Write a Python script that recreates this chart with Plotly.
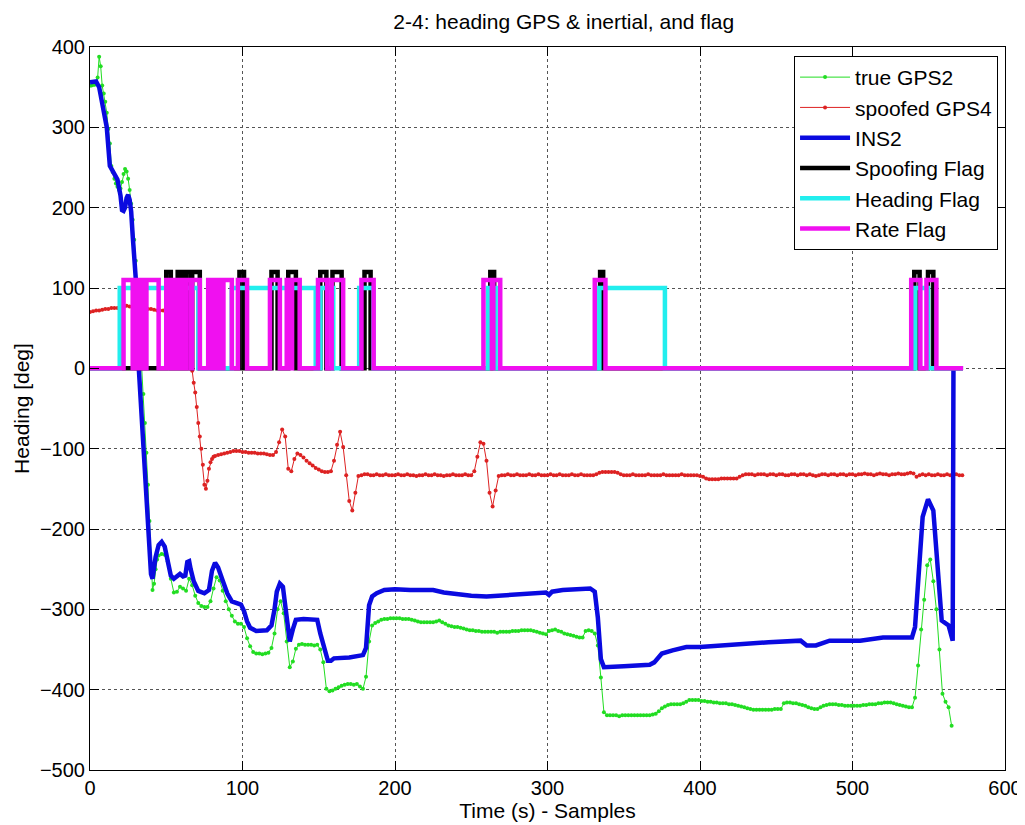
import plotly.graph_objects as go

# ---------------- data ----------------
# true GPS2 heading: segments of (first sample, sample step, values)
GPS2_SEGMENTS = [
    (0, 1, [352, 352, 353, 353, 355, 362, 388, 376, 352, 342,
            332, 318, 298, 280, 252, 244, 236, 230, 226, 222,
            224, 232, 242, 248, 245, 236, 222, 205, 185, 160,
            134, 100, 68, 35, 2, -32, -68, -105, -145, -190,
            -245, -276, -268, -250, -238]),
    (45, 2, [-233, -231, -232, -240, -262, -279, -278, -272, -274, -277,
             -262, -270, -283, -292, -296, -297, -297, -290, -274, -260,
             -264, -277, -290, -300, -308, -315, -318, -318, -322, -336,
             -346, -353, -355, -355, -356, -355, -354, -348, -330, -300,
             -290, -305, -340, -372, -365, -349, -344, -343, -344, -344,
             -344, -345, -344, -350, -366, -399, -402, -401, -399, -397,
             -395, -394, -393, -393, -394, -393, -396, -399, -384, -340,
             -320, -317, -315, -313, -312, -312, -311, -311, -311, -311,
             -312, -312, -312, -313, -314, -315, -316, -316, -316, -316,
             -316, -315, -314, -316, -318, -320, -321, -322, -322, -323,
             -324, -325, -326, -326, -327, -327, -328, -328, -328, -328,
             -328, -329, -328, -328, -328, -328, -327, -327, -327, -326,
             -326, -326, -326, -327, -328, -329, -330, -331, -327, -326,
             -325, -327, -328, -330, -331, -332, -333, -334, -335, -335,
             -327, -326, -327, -330, -345, -385, -428, -432, -432, -432,
             -432, -433, -432, -432, -432, -432, -432, -432, -432, -432,
             -432, -432, -431, -430, -427, -423, -421, -419, -418, -418,
             -418, -418, -417, -415, -413, -413, -413, -413, -414, -414,
             -415, -415, -416, -416, -417, -417, -417, -418, -418, -419,
             -420, -421, -422, -423, -424, -425, -425, -425, -425, -425,
             -425, -425, -424, -424, -424, -417, -416, -416, -417, -417,
             -418, -419, -420, -422, -423, -424, -424, -422, -420, -419,
             -418, -418, -418, -419, -419, -420, -420, -420, -420, -420,
             -420, -419, -419, -418, -418, -418, -417, -417, -416, -416,
             -416, -417, -418, -419, -420, -421, -422, -422, -410, -370,
             -325, -288, -245, -238, -265, -300, -350, -405, -415, -422,
             -445]),
]

# spoofed GPS4 heading
GPS4_SEGMENTS = [
    (0, 2, [70, 71, 72, 72, 73, 74, 74, 75, 75, 75,
            75, 76, 78, 77, 75, 74, 74, 74, 74, 74,
            74, 73, 72, 72, 72, 72, 71, 70, 68, 66]),
    (60, 1, [64, 63, 62, 60, 42, 25, 10, -3, -18, -30,
             -48, -68, -85, -100, -120, -145, -150, -140, -125, -117,
             -113, -110]),
    (82, 2, [-109, -108, -107, -106, -105, -104, -103, -103, -103, -104,
             -104, -105, -105, -105, -106, -106, -106, -107, -108, -108,
             -104, -92, -76, -85, -125, -128, -113, -106, -108, -111,
             -115, -118, -121, -124, -126, -128, -129, -129, -128, -115,
             -95, -79, -98, -133, -165, -177, -155, -134, -133, -132,
             -132, -133, -133, -132, -133, -133, -132, -133, -133, -133,
             -132, -133, -133, -132, -133, -133, -134, -133, -133, -132,
             -133, -133, -132, -133, -133, -134, -133, -133, -132, -133,
             -133, -133, -132, -133, -133, -128, -110, -92, -94, -115,
             -155, -172, -152, -134, -133, -133, -132, -133, -133, -132,
             -133, -133, -133, -132, -133, -133, -132, -133, -133, -133,
             -132, -133, -133, -132, -133, -133, -133, -132, -133, -133,
             -132, -133, -133, -133, -133, -132, -130, -129, -129, -129,
             -129, -129, -130, -132, -133, -133, -133, -132, -133, -133,
             -133, -133, -132, -133, -133, -133, -133, -132, -133, -133,
             -133, -133, -133, -132, -133, -133, -133, -133, -133, -134,
             -135, -137, -138, -138, -138, -138, -137, -137, -137, -137,
             -137, -137, -135, -133, -132, -132, -132, -133, -132, -132,
             -132, -133, -132, -132, -133, -132, -132, -133, -133, -132,
             -132, -133, -132, -132, -133, -132, -133, -134, -133, -132,
             -132, -133, -132, -132, -133, -132, -132, -133, -132, -132,
             -133, -132, -132, -131, -132, -132, -133, -132, -131, -132,
             -132, -133, -132, -132, -131, -132, -132, -131, -130, -131,
             -135, -133, -132, -133, -132, -133, -133, -132, -133, -133,
             -132, -133, -133, -132, -133, -133]),
]

# INS2 heading (breakpoints)
INS2_X = [0, 4, 6, 9, 11, 13, 15, 18, 20, 21, 22, 23, 24, 25, 26, 27, 28, 30, 32, 35,
          38, 40, 41, 43, 45, 47, 49, 51, 53, 55, 57, 59, 61, 62.5, 63.8, 65, 66, 68, 71, 75,
          78, 80, 82, 84, 87, 90, 93, 97, 99, 101, 103, 105, 109, 116, 119, 121, 122.5, 124.5, 126.5, 128,
          130, 131, 133, 135, 140, 146, 149, 151, 153, 156, 158, 160, 170, 179, 181, 183, 185, 188, 193, 200,
          210, 225, 232, 240, 250, 260, 270, 280, 290, 299, 301, 303, 310, 320, 328, 331, 333, 335, 337, 350,
          367, 370, 375, 382, 391, 400, 426, 445, 466, 470, 476, 485, 505, 520, 539, 541, 546, 549.5, 553, 558.5,
          563, 565.7, 566.2]
INS2_Y = [356, 357, 350, 322, 300, 252, 244, 235, 215, 197, 196, 200, 212, 216, 210, 195, 165, 112, 0, -93,
          -198, -256, -262, -235, -220, -216, -222, -240, -258, -262, -258, -256, -259, -258, -241, -240, -250, -265, -277, -280,
          -276, -252, -242, -248, -264, -280, -290, -292, -294, -302, -315, -323, -327, -326, -320, -300, -278, -268, -272, -295,
          -330, -340, -325, -313, -312, -312, -313, -330, -345, -364, -364, -361, -360, -357, -348, -295, -284, -280, -276, -275,
          -276, -276, -279, -281, -283, -284, -283, -281, -280, -279, -282, -278, -276, -275, -274, -278, -310, -362, -372, -371,
          -369, -366, -355, -351, -347, -347, -343, -341, -339, -345, -345, -339, -339, -335, -335, -322, -185, -163, -177, -314,
          -320, -339, 0]

# flag pulses: (on sample, off sample)
SPOOF_LEVEL = 120
SPOOF_PULSES = [(50, 53), (57.5, 59.5), (60.5, 62), (63, 66), (67, 72), (98, 101), (119, 123),
                (130, 135), (151, 155), (159, 165), (180, 184), (262.5, 265), (334.5, 336.5),
                (540.5, 544), (549.5, 553)]
HEADING_LEVEL = 100
HEADING_PULSES = [(19.5, 71), (93, 148), (151, 159.5), (176.5, 186), (261, 266), (334, 377),
                  (541, 549.5)]
RATE_LEVEL = 110
RATE_PULSES = [(22, 28), (29, 30), (31, 32), (33, 34), (35, 36), (37, 45),
               (50, 52), (53, 55), (57, 59), (60, 62), (63, 66), (67, 72),
               (77.5, 79), (80, 81.5), (82.5, 84), (85, 86.5), (87.5, 93),
               (97, 103), (118, 124.5), (129, 131.5), (132.5, 137.5),
               (149.5, 155.5), (158.5, 166), (178, 186), (258, 263.5), (264.5, 269),
               (331, 338), (538.5, 544.5), (548.5, 555)]
FLAG_END = 572.5

X_TICKS = [0, 100, 200, 300, 400, 500, 600]
Y_TICKS = [-500, -400, -300, -200, -100, 0, 100, 200, 300, 400]


# ---------------- helpers ----------------
def expand(segments):
    xs, ys = [], []
    for start, step, vals in segments:
        for i, v in enumerate(vals):
            xs.append(start + i * step)
            ys.append(v)
    return xs, ys


def steps(pulses, level, end):
    xs, ys = [0], [0]
    for a, b in pulses:
        xs += [a, a, b, b]
        ys += [0, level, level, 0]
    xs.append(end)
    ys.append(0)
    return xs, ys


FONT = "Liberation Sans, Arial, sans-serif"

fig = go.Figure()

gx, gy = expand(GPS2_SEGMENTS)
fig.add_trace(go.Scatter(x=gx, y=gy, name="true GPS2", mode="lines+markers",
                         line=dict(color="#22dd22", width=1),
                         marker=dict(color="#22dd22", size=4, symbol="circle")))
rx, ry = expand(GPS4_SEGMENTS)
fig.add_trace(go.Scatter(x=rx, y=ry, name="spoofed GPS4", mode="lines+markers",
                         line=dict(color="#dd2222", width=1),
                         marker=dict(color="#dd2222", size=4, symbol="circle")))
fig.add_trace(go.Scatter(x=INS2_X, y=INS2_Y, name="INS2", mode="lines",
                         line=dict(color="#0a0ae0", width=4.5)))
sx, sy = steps(SPOOF_PULSES, SPOOF_LEVEL, FLAG_END)
fig.add_trace(go.Scatter(x=sx, y=sy, name="Spoofing Flag", mode="lines",
                         line=dict(color="#000000", width=4.5)))
hx, hy = steps(HEADING_PULSES, HEADING_LEVEL, FLAG_END)
fig.add_trace(go.Scatter(x=hx, y=hy, name="Heading Flag", mode="lines",
                         line=dict(color="#22eeee", width=4.5)))
mx, my = steps(RATE_PULSES, RATE_LEVEL, FLAG_END)
fig.add_trace(go.Scatter(x=mx, y=my, name="Rate Flag", mode="lines",
                         line=dict(color="#f010f0", width=4.5)))

axis_common = dict(showline=True, linecolor="black", linewidth=1, mirror="ticks",
                   ticks="inside", ticklen=9, tickcolor="black", automargin=False,
                   showgrid=True, gridcolor="#555555", griddash="dot", gridwidth=1,
                   zeroline=False, tickfont=dict(family=FONT, size=20, color="black"))

fig.update_xaxes(range=[0, 600], tickvals=X_TICKS,
                 title=dict(text="Time (s) - Samples", font=dict(family=FONT, size=21, color="black"),
                            standoff=0),
                 **axis_common)
fig.update_yaxes(range=[-500, 400], tickvals=Y_TICKS,
                 title=dict(text="Heading [deg]", font=dict(family=FONT, size=21, color="black"),
                            standoff=4),
                 **axis_common)

# the page body adds an 8px offset, so the figure is sized 1017x817
fig.update_layout(
    width=1017, height=817,
    margin=dict(l=82, r=20, t=39, b=55, autoexpand=False),
    paper_bgcolor="white", plot_bgcolor="white",
    title=dict(text="2-4: heading GPS & inertial, and flag", x=0.5465, xanchor="center",
               y=0.983, yanchor="middle", yref="container",
               font=dict(family=FONT, size=21, color="black")),
    font=dict(family=FONT, color="black"),
    legend=dict(x=0.9924, y=0.9876, xanchor="right", yanchor="top",
                bgcolor="white", bordercolor="black", borderwidth=1,
                font=dict(family=FONT, size=21, color="black"),
                tracegroupgap=0, itemwidth=50),
    showlegend=True,
)

fig.write_html("out.html")
